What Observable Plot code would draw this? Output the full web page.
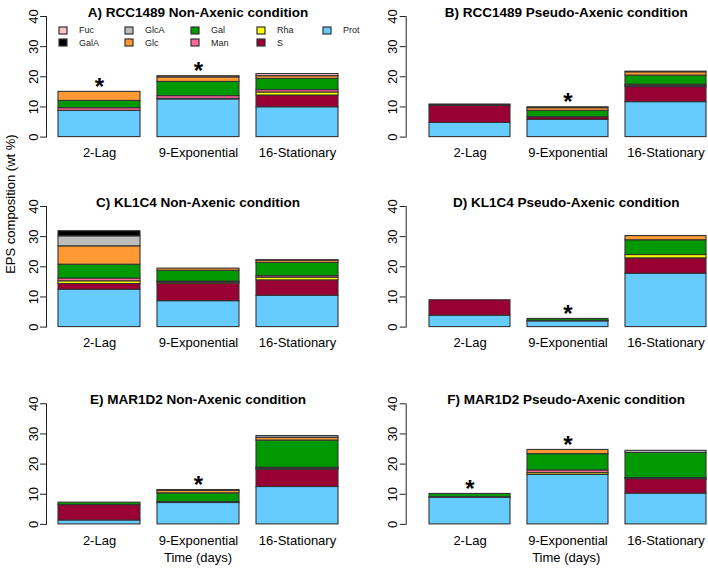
<!DOCTYPE html>
<html>
<head>
<meta charset="utf-8">
<script src="https://cdn.jsdelivr.net/npm/d3@7"></script>
<script src="https://cdn.jsdelivr.net/npm/@observablehq/plot@0.6"></script>
<style>
  html, body { margin: 0; padding: 0; background: #fff; }
  #fig { position: relative; width: 708px; height: 570px; overflow: hidden; font-family: "Liberation Sans", Arial, sans-serif; }
  #fig > .pnl { position: absolute; }
  #legend { position: absolute; left: 59px; top: 24px; width: 330px; }
  .lgd-swatches { font: 9px "Liberation Sans", Arial, sans-serif !important; color: #222; column-gap: 0 !important; margin: 0 !important; min-height: 0 !important; }
  .lgd-swatch { line-height: 12.6px; height: 12.6px; padding-bottom: 0 !important; margin: 0 !important; }
  .lgd-swatch svg { margin-right: 12px !important; overflow: visible; }
  .lgd-swatch svg rect { stroke: #333; stroke-width: 1.2; }
</style>
</head>
<body>
<div id="fig"></div>
<script>
// ---- data ----
const stages = ["2-Lag", "9-Exponential", "16-Stationary"];
// stacking order, bottom to top
const components = ["Prot", "S", "Rha", "Man", "Gal", "Glc", "GlcA", "GalA", "Fuc"];
const compColors = ["#66CCFF", "#990033", "#FFFF00", "#FF6699", "#009900", "#FF9933", "#BEBEBE", "#000000", "#FFC0CB"];

// rows = stages; columns = components (Prot, S, Rha, Man, Gal, Glc, GlcA, GalA, Fuc), wt %
const rcc1489NonAxenic = [
  [8.7, 0, 0, 0.9, 2.4, 3.0, 0, 0, 0],
  [12.5, 0.2, 0, 0.9, 4.7, 1.5, 0, 0, 0.4],
  [9.9, 3.9, 1.0, 0.8, 3.7, 0.9, 0, 0, 0.7]
];
const rcc1489PseudoAxenic = [
  [4.7, 5.7, 0, 0, 0, 0, 0, 0.4, 0],
  [5.7, 0.9, 0, 0, 2.1, 0.9, 0.3, 0, 0],
  [11.6, 5.0, 0.4, 0.4, 3.0, 1.1, 0.2, 0, 0]
];
const kl1c4NonAxenic = [
  [12.4, 1.9, 0.9, 0.9, 4.6, 6.1, 3.3, 1.7, 0],
  [8.6, 5.8, 0.4, 0.3, 3.6, 0.7, 0, 0, 0],
  [10.4, 5.1, 0.9, 0.5, 4.4, 0.7, 0, 0, 0.2]
];
const kl1c4PseudoAxenic = [
  [3.8, 5.1, 0, 0, 0, 0, 0, 0, 0],
  [1.9, 0.2, 0, 0, 0.6, 0, 0, 0, 0],
  [17.7, 5.1, 1.1, 0, 4.9, 1.4, 0, 0, 0]
];
const mar1d2NonAxenic = [
  [1.3, 5.1, 0, 0, 0.8, 0, 0, 0, 0],
  [7.1, 0.3, 0, 0, 2.9, 0.8, 0.3, 0, 0],
  [12.4, 5.7, 0.3, 0.4, 9.0, 0.9, 0.6, 0, 0]
];
const mar1d2PseudoAxenic = [
  [8.9, 0.1, 0, 0, 1.1, 0, 0, 0, 0],
  [16.4, 0, 0.6, 0.9, 5.4, 1.4, 0, 0, 0],
  [10.2, 4.8, 0.2, 0.2, 8.3, 0, 0.7, 0, 0]
];

const panelTitles = [
  "A) RCC1489 Non-Axenic condition", "B) RCC1489 Pseudo-Axenic condition",
  "C) KL1C4 Non-Axenic condition", "D) KL1C4 Pseudo-Axenic condition",
  "E) MAR1D2 Non-Axenic condition", "F) MAR1D2 Pseudo-Axenic condition"
];
const panelValues = [rcc1489NonAxenic, rcc1489PseudoAxenic, kl1c4NonAxenic, kl1c4PseudoAxenic, mar1d2NonAxenic, mar1d2PseudoAxenic];
// stages marked with a significance asterisk in each panel
const significant = [
  ["2-Lag", "9-Exponential"], ["9-Exponential"],
  [], ["9-Exponential"],
  ["9-Exponential"], ["2-Lag", "9-Exponential"]
];
const yTicks = [0, 10, 20, 30, 40];
const yLabel = "EPS composition (wt %)";
const xLabel = "Time (days)";

// ---- drawing ----
const fig = document.getElementById("fig");
const FONT = '"Liberation Sans", Arial, sans-serif';

panelValues.forEach((values, p) => {
  const col = p % 2, row = Math.floor(p / 2);
  const right = col === 1;
  const mt = row === 2 ? 23.3 : 16;
  const mb = 190 - mt - 120.6;
  const rows = stages.flatMap((s, i) => components.map((c, j) => ({stage: s, comp: c, value: values[i][j]})))
    .filter(d => d.value > 0);
  const totals = stages.map((s, i) => ({stage: s, total: d3.sum(values[i])}))
    .filter(d => significant[p].includes(d.stage));

  const marks = [
    Plot.frame({anchor: "left", stroke: "#222"}),
    Plot.barY(rows, {x: "stage", y: "value", fill: "comp", order: components, stroke: "#333", strokeWidth: 1.1}),
    Plot.axisY({ticks: yTicks, tickSize: 6, tickRotate: -90, tickPadding: 3, fontSize: 13, label: null, stroke: "#222"}),
    Plot.axisX({tickSize: 0, tickPadding: 11, fontSize: 13, label: null}),
    Plot.text([panelTitles[p]], {frameAnchor: "top", dy: -9, dx: right ? 10 : 0, fontWeight: "bold", fontSize: 13.5}),
    Plot.text(totals, {x: "stage", y: "total", text: () => "*", fontSize: 24, fontWeight: "bold", dy: -5})
  ];
  if (p === 2) marks.push(Plot.text([yLabel], {frameAnchor: "left", rotate: -90, dx: -36, dy: 7, fontSize: 13}));
  if (row === 2) marks.push(Plot.text([xLabel], {frameAnchor: "bottom", dy: 38, dx: right ? 10 : 0, fontSize: 13}));

  const chart = Plot.plot({
    width: 354, height: 190,
    marginLeft: right ? 51.7 : 46, marginRight: right ? 2.3 : 5,
    marginTop: mt, marginBottom: mb,
    style: {fontFamily: FONT, background: "transparent", overflow: "visible", color: "#000"},
    x: {domain: stages, paddingInner: 0.176, paddingOuter: right ? 0.106 : 0.118, align: right ? 1 : 0.5, label: null},
    y: {domain: [0, 40], label: null},
    color: {domain: components, range: compColors},
    marks
  });
  chart.classList.add("pnl");
  chart.style.left = (col * 354) + "px";
  chart.style.top = (row * 190) + "px";
  fig.appendChild(chart);
});

// legend in panel A: columns filled top-to-bottom, same order as R (top of stack first)
const legendDomain = components.slice().reverse();
const legendRange = compColors.slice().reverse();
const lg = Plot.legend({
  color: {domain: legendDomain, range: legendRange},
  legend: "swatches", columns: 5, swatchWidth: 8, swatchHeight: 7, className: "lgd"
});
const lgWrap = document.createElement("div");
lgWrap.id = "legend";
lgWrap.appendChild(lg);
fig.appendChild(lgWrap);
</script>
</body>
</html>
